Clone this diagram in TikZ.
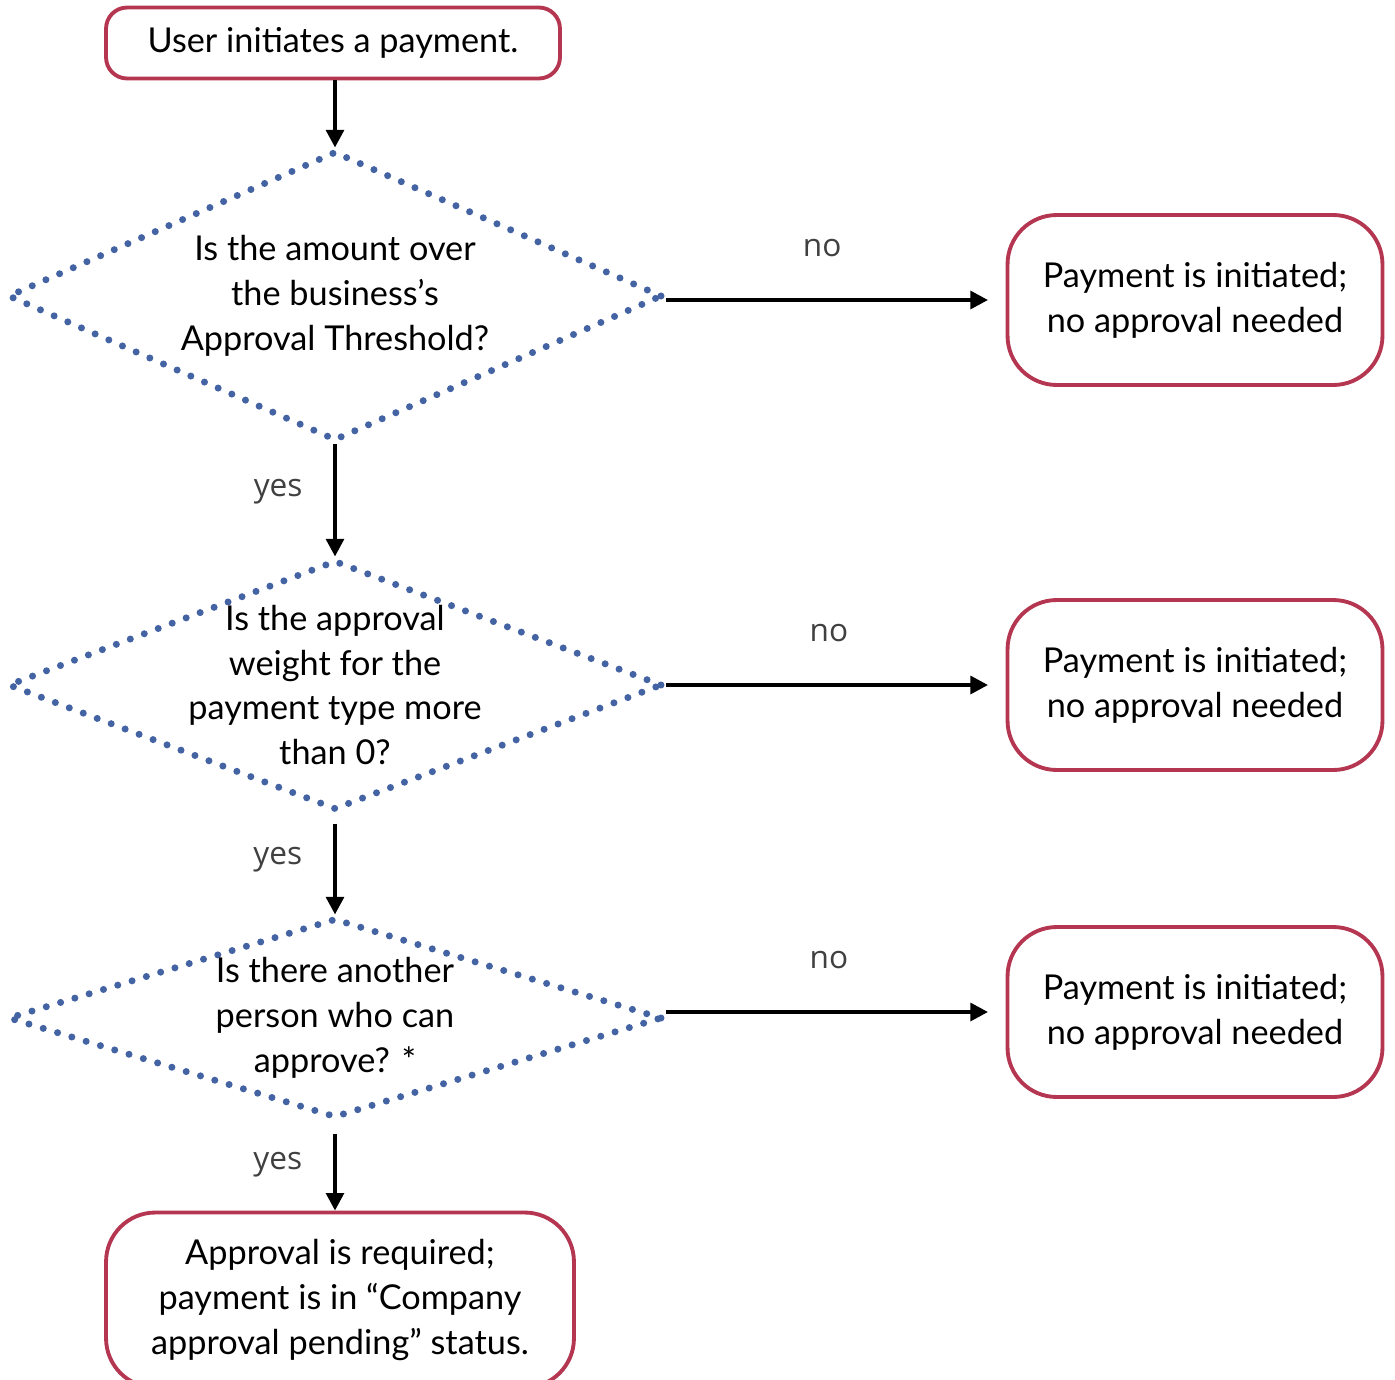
\documentclass[tikz,border=0pt]{standalone}
\usepackage{fontspec}
\setmainfont{Lato}
\newfontfamily\labelfont{Open Sans}
\usetikzlibrary{shapes.geometric,arrows.meta}

\definecolor{boxred}{RGB}{181,54,80}
\definecolor{dotblue}{RGB}{68,99,163}
\definecolor{labelgrey}{RGB}{64,64,64}

\begin{document}
\begin{tikzpicture}[x=0.02cm,y=-0.02cm,
  endbox/.style={draw=boxred, line width=2.2pt, rounded corners=28pt, align=center,
    font=\fontsize{19.5}{25.5}\selectfont},
  decision/.style={shape=diamond, draw=dotblue, line width=4pt, line cap=round,
    line join=round, dash pattern=on 0pt off 8.5pt, minimum width=13.1cm, inner sep=0pt},
  qtext/.style={align=center, font=\fontsize{19.5}{25.5}\selectfont},
  flow/.style={line width=2.3pt, -{Triangle[length=10pt,width=10pt]}},
  answer/.style={font=\labelfont\fontsize{18}{20}\selectfont, text=labelgrey}]

\useasboundingbox (0,0) rectangle (1395,1379);

\node[endbox, rounded corners=12pt, minimum width=9.08cm, minimum height=1.42cm] (start) at (333,43) {User initiates a payment.};

% the three questions
\node[decision, minimum height=5.8cm] (q1) at (335,296) {};
\node[qtext] (q1text) at (q1) {Is the amount over\\the business's\\Approval Threshold?};

\node[decision, minimum height=5cm] (q2) at (335,685) {};
\node[qtext] (q2text) at (q2) {Is the approval\\weight for the\\payment type more\\than 0?};

\node[decision, minimum height=4cm] (q3) at (335,1018) {};
\node[qtext] (q3text) at (q3) {Is there another\\person who can\\approve? *};

% outcomes
\node[endbox, minimum width=7.5cm, minimum height=3.4cm] (ok1) at (1195,300) {Payment is initiated;\\no approval needed};
\node[endbox, minimum width=7.5cm, minimum height=3.4cm] (ok2) at (1195,685) {Payment is initiated;\\no approval needed};
\node[endbox, minimum width=7.5cm, minimum height=3.4cm] (ok3) at (1195,1012) {Payment is initiated;\\no approval needed};
\node[endbox, minimum width=9.36cm, minimum height=3.5cm] (pending) at (340,1300) {Approval is required;\\payment is in ``Company\\approval pending'' status.};

\draw[flow] (start.south -| q1.north) -- (q1.north);
\draw[flow] (q1) -- (q2) node[pos=0.42, left=14pt, answer] (yes1) {yes};
\draw[flow] (q2.south) ++(0,10) coordinate (q2out) -- (q3.north);
\node[answer, left=14pt] (yes2) at (333,860) {yes};
\draw[flow] (q3.south) ++(0,12) coordinate (q3out) -- (q3out |- pending.north);
\node[answer, left=14pt] (yes3) at (333,1165) {yes};

\draw[flow, shorten >=10pt] (q1.east |- ok1) -- (ok1) node[pos=0.46, above=20pt, answer] (no1) {no};
\draw[flow, shorten >=10pt] (q2.east |- ok2) -- (ok2) node[pos=0.48, above=20pt, answer] (no2) {no};
\draw[flow, shorten >=10pt] (q3.east |- ok3) -- (ok3) node[pos=0.48, above=20pt, answer] (no3) {no};
\end{tikzpicture}
\end{document}
